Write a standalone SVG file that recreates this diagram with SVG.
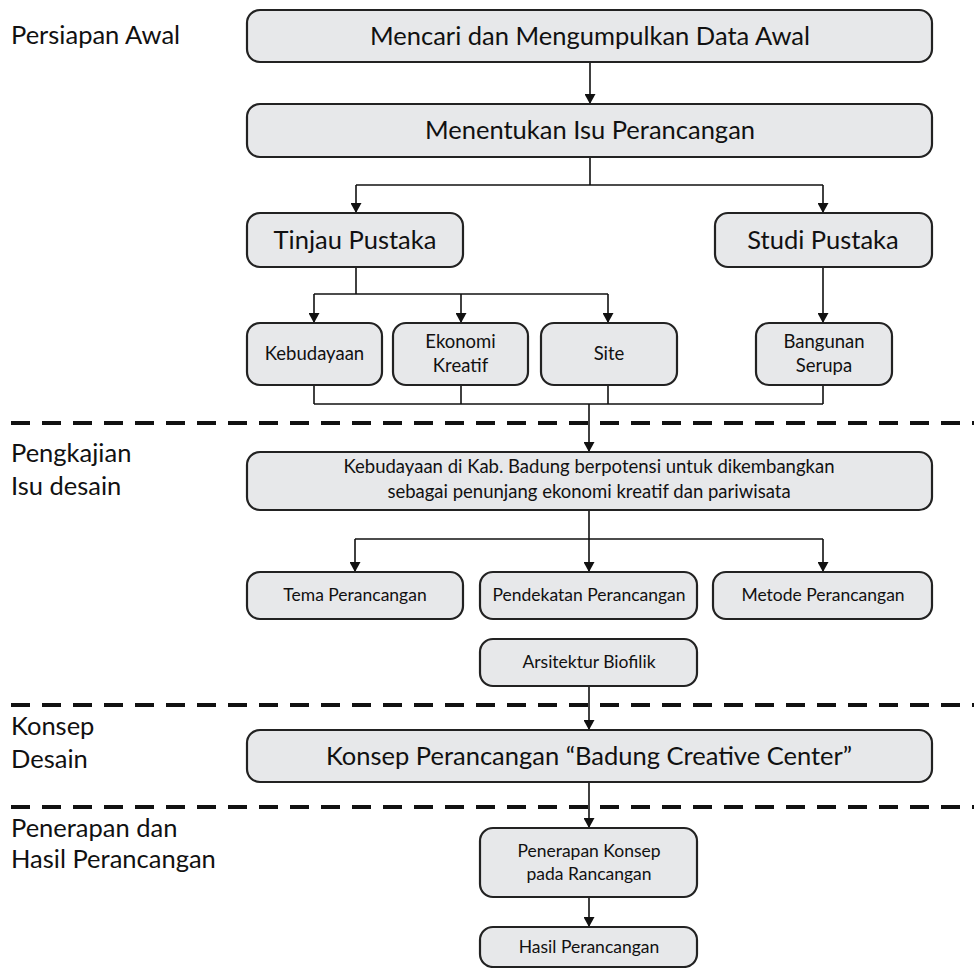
<svg xmlns="http://www.w3.org/2000/svg" width="974" height="968" viewBox="0 0 974 968">
<defs>
<marker id="arr" markerUnits="userSpaceOnUse" markerWidth="11" markerHeight="11" refX="10" refY="5.5" orient="auto" viewBox="0 0 11 11">
<path d="M0,0 L10,5.5 L0,11 z" fill="#111"/>
</marker>
<style>
.box{fill:#e7e8ea;stroke:#222;stroke-width:2.2}
.t{font-family:Lato,"Liberation Sans",sans-serif;fill:#111;text-anchor:middle}
.lg{font-size:25.5px}
.md{font-size:18.5px}
.sm{font-size:17.5px}
.lbl{font-family:Lato,"Liberation Sans",sans-serif;fill:#111;font-size:25.5px}
.c{fill:none;stroke:#111;stroke-width:1.6}
.ca{fill:none;stroke:#111;stroke-width:1.6;marker-end:url(#arr)}
.dash{fill:none;stroke:#111;stroke-width:4;stroke-dasharray:19 12}
</style>
</defs>
<rect width="974" height="968" fill="#fff"/>

<g id="dividers">
<line class="dash" x1="11" y1="423" x2="974" y2="423"/>
<line class="dash" x1="11" y1="705" x2="974" y2="705"/>
<line class="dash" x1="11" y1="807" x2="974" y2="807"/>
</g>

<g id="labels">
<text class="lbl" x="11" y="44">Persiapan Awal</text>
<text class="lbl" x="11" y="462">Pengkajian</text>
<text class="lbl" x="11" y="495">Isu desain</text>
<text class="lbl" x="11" y="735">Konsep</text>
<text class="lbl" x="11" y="768">Desain</text>
<text class="lbl" x="11" y="837">Penerapan dan</text>
<text class="lbl" x="11" y="868">Hasil Perancangan</text>
</g>

<g id="connectors">
<line class="ca" x1="590" y1="62" x2="590" y2="104"/>
<polyline class="c" points="590,157 590,185"/>
<polyline class="c" points="356,185 823,185"/>
<line class="ca" x1="356" y1="185" x2="356" y2="213"/>
<line class="ca" x1="823" y1="185" x2="823" y2="213"/>
<line class="c" x1="356" y1="267" x2="356" y2="294"/>
<line class="c" x1="314" y1="294" x2="608" y2="294"/>
<line class="ca" x1="314" y1="294" x2="314" y2="323"/>
<line class="ca" x1="461" y1="294" x2="461" y2="323"/>
<line class="ca" x1="608" y1="294" x2="608" y2="323"/>
<line class="ca" x1="823" y1="267" x2="823" y2="323"/>
<line class="c" x1="314" y1="385" x2="314" y2="404"/>
<line class="c" x1="461" y1="385" x2="461" y2="404"/>
<line class="c" x1="608" y1="385" x2="608" y2="404"/>
<line class="c" x1="823" y1="385" x2="823" y2="404"/>
<line class="c" x1="314" y1="404" x2="823" y2="404"/>
<line class="ca" x1="589" y1="404" x2="589" y2="452"/>
<line class="c" x1="589" y1="510" x2="589" y2="539"/>
<line class="c" x1="355" y1="539" x2="823" y2="539"/>
<line class="ca" x1="355" y1="539" x2="355" y2="572"/>
<line class="ca" x1="589" y1="539" x2="589" y2="572"/>
<line class="ca" x1="823" y1="539" x2="823" y2="572"/>
<line class="ca" x1="589" y1="686" x2="589" y2="730"/>
<line class="ca" x1="589" y1="782" x2="589" y2="828"/>
<line class="ca" x1="589" y1="897" x2="589" y2="927"/>
</g>

<g id="n-data">
<rect class="box" x="247" y="10" width="685" height="52" rx="13"/>
<text class="t lg" x="590" y="45">Mencari dan Mengumpulkan Data Awal</text>
</g>
<g id="n-isu">
<rect class="box" x="247" y="104" width="685" height="53" rx="13"/>
<text class="t lg" x="590" y="139">Menentukan Isu Perancangan</text>
</g>
<g id="n-tinjau">
<rect class="box" x="247" y="213" width="216" height="54" rx="13"/>
<text class="t lg" x="355" y="249">Tinjau Pustaka</text>
</g>
<g id="n-studi">
<rect class="box" x="715" y="213" width="217" height="54" rx="13"/>
<text class="t lg" x="823" y="249">Studi Pustaka</text>
</g>
<g id="n-kebudayaan">
<rect class="box" x="247" y="323" width="135" height="62" rx="13"/>
<text class="t md" x="314.5" y="360">Kebudayaan</text>
</g>
<g id="n-ekonomi">
<rect class="box" x="393" y="323" width="135" height="62" rx="13"/>
<text class="t md" x="460.5" y="348">Ekonomi</text>
<text class="t md" x="460.5" y="372">Kreatif</text>
</g>
<g id="n-site">
<rect class="box" x="541" y="323" width="136" height="62" rx="13"/>
<text class="t md" x="609" y="360">Site</text>
</g>
<g id="n-bangunan">
<rect class="box" x="756" y="323" width="136" height="62" rx="13"/>
<text class="t md" x="824" y="348">Bangunan</text>
<text class="t md" x="824" y="372">Serupa</text>
</g>
<g id="n-kajian">
<rect class="box" x="247" y="452" width="685" height="58" rx="13"/>
<text class="t md" x="589" y="473">Kebudayaan di Kab. Badung berpotensi untuk dikembangkan</text>
<text class="t md" x="589" y="498">sebagai penunjang ekonomi kreatif dan pariwisata</text>
</g>
<g id="n-tema">
<rect class="box" x="247" y="572" width="216" height="47" rx="13"/>
<text class="t sm" x="355" y="601">Tema Perancangan</text>
</g>
<g id="n-pendekatan">
<rect class="box" x="480" y="572" width="217" height="47" rx="13"/>
<text class="t sm" x="589" y="601">Pendekatan Perancangan</text>
</g>
<g id="n-metode">
<rect class="box" x="713" y="572" width="219" height="47" rx="13"/>
<text class="t sm" x="823" y="601">Metode Perancangan</text>
</g>
<g id="n-biofilik">
<rect class="box" x="480" y="639" width="217" height="47" rx="13"/>
<text class="t sm" x="589" y="668">Arsitektur Biofilik</text>
</g>
<g id="n-konsep">
<rect class="box" x="247" y="730" width="685" height="52" rx="13"/>
<text class="t lg" x="589" y="765">Konsep Perancangan “Badung Creative Center”</text>
</g>
<g id="n-penerapan">
<rect class="box" x="480" y="828" width="217" height="69" rx="13"/>
<text class="t sm" x="589" y="857">Penerapan Konsep</text>
<text class="t sm" x="589" y="880">pada Rancangan</text>
</g>
<g id="n-hasil">
<rect class="box" x="480" y="927" width="217" height="40" rx="13"/>
<text class="t sm" x="589" y="953">Hasil Perancangan</text>
</g>
</svg>
